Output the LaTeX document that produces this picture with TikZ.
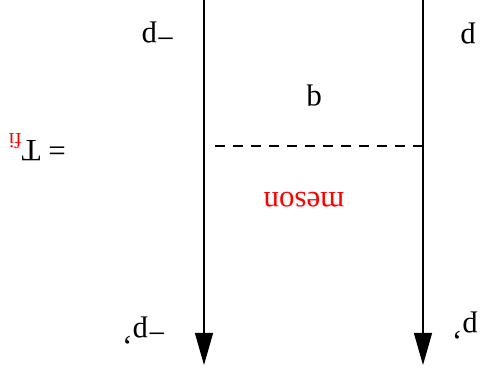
\documentclass[tikz,border=0pt]{standalone}
\usepackage{fontspec}
\setmainfont{Liberation Serif}
\usetikzlibrary{arrows.meta}
\begin{document}
\begin{tikzpicture}[x=1pt,y=1pt,
  lbl/.style={rotate=180, inner sep=0pt, font=\fontsize{31}{36}\selectfont},
  fermion/.style={line width=1.3pt, -{Triangle[length=32pt,width=18pt]}},
  exch/.style={line width=1.3pt, dash pattern=on 10pt off 8pt}]
\useasboundingbox (0,0) rectangle (483,372);
\coordinate (Ltop) at (204,372);
\coordinate (Lbot) at (204,7);
\coordinate (Rtop) at (423,372);
\coordinate (Rbot) at (423,7);
\draw[fermion] (Ltop) -- (Lbot);
\draw[fermion] (Rtop) -- (Rbot);
\coordinate (dL) at (214,226);
\coordinate (dR) at (423,226);
\draw[exch] (dR) -- (dL);
\node[lbl] (pL) at (158,339) {−p};
\node[lbl] (pR) at (468,338) {p};
\node[lbl] (q) at (314,276) {q};
\node[lbl, text=red] (meson) at (304,172) {meson};
\node[lbl] (Tfi) at (37,225) {= T\textsubscript{\color{red}f\kern0pt i}};
\node[lbl] (pLp) at (144,41) {−p'};
\node[lbl] (pRp) at (465,46) {p'};
\end{tikzpicture}
\end{document}
